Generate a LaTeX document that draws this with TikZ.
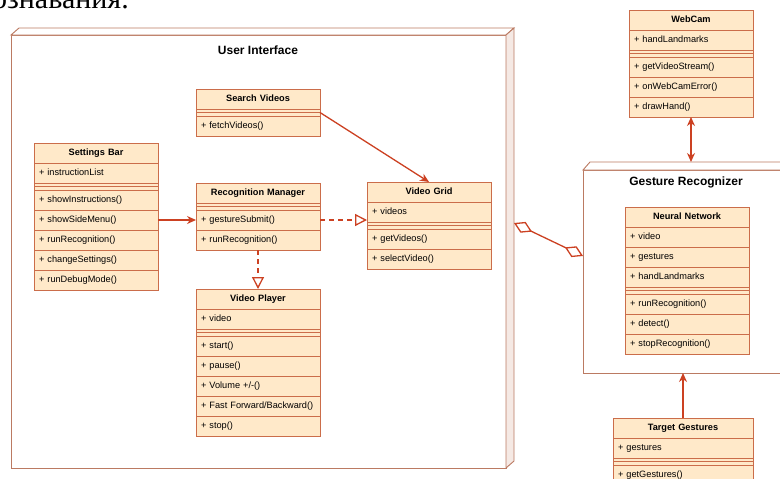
\documentclass[tikz,border=0pt]{standalone}
\usepackage{fontspec}
\setmainfont{Liberation Sans}
\newfontfamily\serifcyr{Liberation Serif}
\usetikzlibrary{positioning,arrows.meta,calc}

\definecolor{clsfill}{HTML}{FFE9C9}
\definecolor{clsline}{HTML}{CB6D4A}
\definecolor{arrowred}{HTML}{CC4122}
\definecolor{pkgline}{HTML}{BB7A62}
\definecolor{pkgside}{HTML}{F5E9E4}

\tikzset{
  umlrow/.style={draw=clsline, fill=clsfill, line width=0.9pt, text width=114pt, inner xsep=5pt, inner ysep=0pt,
    text height=7pt, text depth=2pt, minimum height=20pt, align=left, outer sep=0pt, font=\fontsize{9.2}{11}\selectfont},
  umlhead/.style={umlrow, align=center, font=\fontsize{9.2}{11}\selectfont\bfseries},
  umlsep/.style={draw=clsline, fill=clsfill, line width=0.9pt, minimum width=124pt, minimum height=7pt,
    inner sep=0pt, outer sep=0pt,
    path picture={\draw[clsline, line width=0.9pt] (path picture bounding box.west) -- (path picture bounding box.east);}},
  wide/.style={text width=130pt},
  widesep/.style={minimum width=140pt},
  pkg/.style={draw=pkgline, fill=white, line width=0.9pt, inner sep=0pt, outer sep=0pt},
  pkgtitle/.style={font=\fontsize{12}{14}\selectfont\bfseries},
  assoc/.style={draw=arrowred, line width=1.3pt, -{Stealth[length=9pt,width=8pt]}},
  both/.style={draw=arrowred, line width=1.3pt, {Stealth[length=9pt,width=8pt]}-{Stealth[length=9pt,width=8pt]}},
  realize/.style={draw=arrowred, line width=1.3pt, dash pattern=on 5pt off 4pt, -{Triangle[open,length=12pt,width=12pt]}},
  aggr/.style={draw=arrowred, line width=1.3pt, {Diamond[open,length=20pt,width=12pt]}-{Diamond[open,length=20pt,width=12pt]}}
}

\begin{document}
\begin{tikzpicture}[x=1pt, y=-1pt]
  \useasboundingbox (0,0) rectangle (780,479);
  \fill[white] (0,0) rectangle (780,479);
  \clip (0,0) rectangle (780,479);

  % cut line of the page text
  \node[anchor=base east, inner sep=0pt, font=\serifcyr\fontsize{30}{32}\selectfont] (pageline) at (129,9) {распознавания.};

  % packages
  \node[pkg, minimum width=495pt, minimum height=433pt, anchor=north west] (ui) at (11,35) {};
  \filldraw[draw=pkgline, fill=white, line width=0.9pt] (ui.north west) -- ++(8,-7) -- ($(ui.north east)+(8,-7)$) -- (ui.north east) -- cycle;
  \filldraw[draw=pkgline, fill=pkgside, line width=0.9pt] (ui.north east) -- ++(8,-7) -- ($(ui.south east)+(8,-7)$) -- (ui.south east) -- cycle;
  \node[pkgtitle] (uititle) at (258,50) {User Interface};

  \node[pkg, minimum width=260pt, minimum height=203pt, anchor=north west] (gr) at (583,170) {};
  \filldraw[draw=pkgline, fill=white, line width=0.9pt] (gr.north west) -- ++(7,-8) -- ($(gr.north east)+(7,-8)$) -- (gr.north east) -- cycle;
  \node[pkgtitle] (grtitle) at (686,182) {Gesture Recognizer};
  \coordinate (grtop) at ($(gr.north west)+(7,-8)$);

  % Settings Bar
  \node[umlhead, anchor=north west] (sb) at (34,143) {Settings Bar};
  \node[umlrow, below=0pt of sb] (sb-list) {+ instructionList};
  \node[umlsep, below=0pt of sb-list] (sb-sep) {};
  \node[umlrow, below=0pt of sb-sep] (sb-instr) {+ showInstructions()};
  \node[umlrow, below=0pt of sb-instr] (sb-menu) {+ showSideMenu()};
  \node[umlrow, below=0pt of sb-menu] (sb-run) {+ runRecognition()};
  \node[umlrow, below=0pt of sb-run] (sb-set) {+ changeSettings()};
  \node[umlrow, below=0pt of sb-set] (sb-debug) {+ runDebugMode()};

  % Search Videos
  \node[umlhead, anchor=north west] (sv) at (196,89) {Search Videos};
  \node[umlsep, below=0pt of sv] (sv-sep) {};
  \node[umlrow, below=0pt of sv-sep] (sv-fetch) {+ fetchVideos()};

  % Recognition Manager
  \node[umlhead, anchor=north west] (rm) at (196,183) {Recognition Manager};
  \node[umlsep, below=0pt of rm] (rm-sep) {};
  \node[umlrow, below=0pt of rm-sep] (rm-submit) {+ gestureSubmit()};
  \node[umlrow, below=0pt of rm-submit] (rm-run) {+ runRecognition()};

  % Video Grid
  \node[umlhead, anchor=north west] (vg) at (367,182) {Video Grid};
  \node[umlrow, below=0pt of vg] (vg-videos) {+ videos};
  \node[umlsep, below=0pt of vg-videos] (vg-sep) {};
  \node[umlrow, below=0pt of vg-sep] (vg-get) {+ getVideos()};
  \node[umlrow, below=0pt of vg-get] (vg-select) {+ selectVideo()};

  % Video Player
  \node[umlhead, anchor=north west] (vp) at (196,289) {Video Player};
  \node[umlrow, below=0pt of vp] (vp-video) {+ video};
  \node[umlsep, below=0pt of vp-video] (vp-sep) {};
  \node[umlrow, below=0pt of vp-sep] (vp-start) {+ start()};
  \node[umlrow, below=0pt of vp-start] (vp-pause) {+ pause()};
  \node[umlrow, below=0pt of vp-pause] (vp-vol) {+ Volume +/-()};
  \node[umlrow, below=0pt of vp-vol] (vp-ff) {+ Fast Forward/Backward()};
  \node[umlrow, below=0pt of vp-ff] (vp-stop) {+ stop()};

  % WebCam
  \node[umlhead, anchor=north west] (wc) at (629,10) {WebCam};
  \node[umlrow, below=0pt of wc] (wc-hand) {+ handLandmarks};
  \node[umlsep, below=0pt of wc-hand] (wc-sep) {};
  \node[umlrow, below=0pt of wc-sep] (wc-stream) {+ getVideoStream()};
  \node[umlrow, below=0pt of wc-stream] (wc-error) {+ onWebCamError()};
  \node[umlrow, below=0pt of wc-error] (wc-draw) {+ drawHand()};

  % Neural Network
  \node[umlhead, anchor=north west] (nn) at (625,207) {Neural Network};
  \node[umlrow, below=0pt of nn] (nn-video) {+ video};
  \node[umlrow, below=0pt of nn-video] (nn-gest) {+ gestures};
  \node[umlrow, below=0pt of nn-gest] (nn-hand) {+ handLandmarks};
  \node[umlsep, below=0pt of nn-hand] (nn-sep) {};
  \node[umlrow, below=0pt of nn-sep] (nn-run) {+ runRecognition()};
  \node[umlrow, below=0pt of nn-run] (nn-detect) {+ detect()};
  \node[umlrow, below=0pt of nn-detect] (nn-stop) {+ stopRecognition()};

  % Target Gestures
  \node[umlhead, wide, anchor=north west] (tg) at (613,418) {Target Gestures};
  \node[umlrow, wide, below=0pt of tg] (tg-gest) {+ gestures};
  \node[umlsep, widesep, below=0pt of tg-gest] (tg-sep) {};
  \node[umlrow, wide, below=0pt of tg-sep] (tg-get) {+ getGestures()};

  % connectors
  \draw[assoc] (sb-menu.east) -- (rm-submit.west);
  \draw[assoc] (sv-sep.east) -- (vg.north);
  \draw[realize] (rm-submit.east) -- (rm-submit.east -| vg.west);
  \draw[realize] (rm-run.south) -- (vp.north);
  \draw[both] (wc-draw.south) -- (wc-draw.south |- grtop);
  \draw[assoc] (tg.north) -- (tg.north |- gr.south);

  \coordinate (ui-agg) at (514,223);
  \coordinate (gr-agg) at (583,256);
  \draw[aggr] (ui-agg) -- (gr-agg);
\end{tikzpicture}
\end{document}
